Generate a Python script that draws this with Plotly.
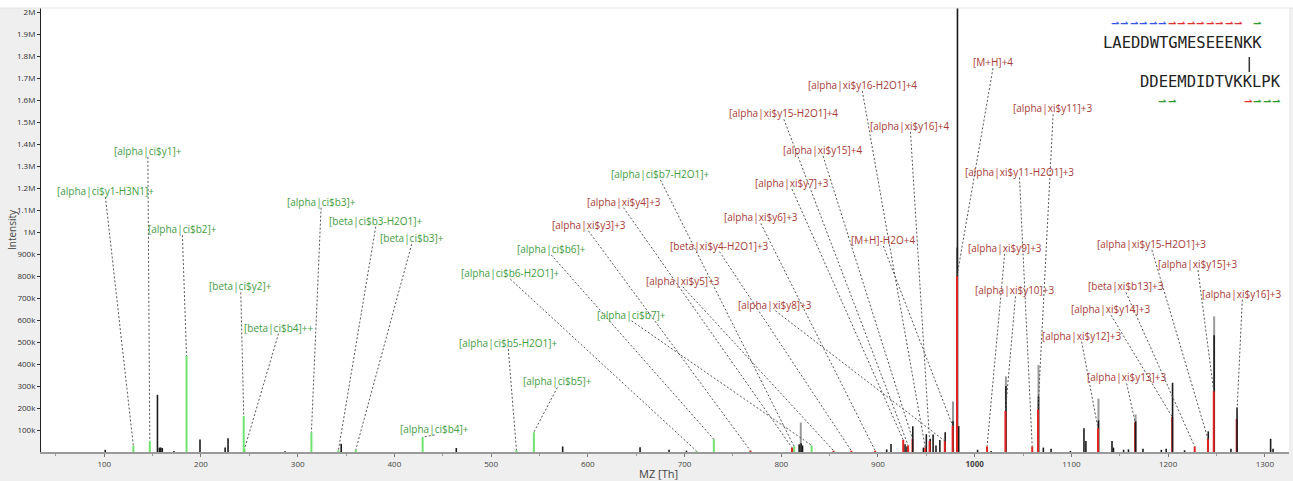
import plotly.graph_objects as go

# ---------------- data ----------------
# unannotated peaks (m/z, intensity)
gray_mz = [820.2, 977.6, 1032.3, 1066.0, 1128.0, 1166.4, 1247.6]
gray_int = [134e3, 230e3, 344e3, 396e3, 243e3, 171e3, 617e3]

black_mz = [101, 155, 157, 158.5, 160, 172, 199, 225, 228, 287, 345, 464, 574, 654, 684, 702,
            818.5, 820.5, 822, 909, 913.5, 928, 930, 947, 950, 954, 957, 960, 964, 969.5,
            977.6, 982.0, 982.2, 983.5, 1003, 1017, 1032.3, 1066.0, 1071, 1079, 1099, 1113, 1115,
            1128.0, 1142, 1143.5, 1154, 1159, 1174, 1193, 1198, 1217, 1241.5, 1247.6,
            1265, 1306, 1308.5]
black_int = [10e3, 260e3, 20e3, 20e3, 18e3, 4e3, 57e3, 20e3, 62e3, 3e3, 38e3, 18e3, 25e3, 22e3, 10e3, 6e3,
             35e3, 40e3, 30e3, 12e3, 36e3, 35e3, 25e3, 20e3, 81e3, 60e3, 80e3, 30e3, 55e3, 90e3,
             140e3, 930e3, 2.4e6, 118e3, 10e3, 4e3, 300e3, 253e3, 20e3, 15e3, 5e3, 108e3, 50e3,
             144e3, 50e3, 20e3, 10e3, 12e3, 15e3, 10e3, 15e3, 8e3, 94e3, 531e3,
             15e3, 60e3, 15e3]

front_mz = [936.0, 1166.4, 1204.6, 1271.3]
front_int = [117e3, 140e3, 315e3, 203e3]

# annotated fragments, light (green)
green_labels = ["[alpha|ci$y1-H3N1]+", "[alpha|ci$y1]+", "[alpha|ci$b2]+", "[beta|ci$y2]+",
                "[beta|ci$b4]++", "[alpha|ci$b3]+", "[beta|ci$b3-H2O1]+", "[beta|ci$b3]+",
                "[alpha|ci$b4]+", "[alpha|ci$b5-H2O1]+", "[alpha|ci$b5]+", "[alpha|ci$b6-H2O1]+",
                "[alpha|ci$b6]+", "[alpha|ci$b7-H2O1]+", "[alpha|ci$b7]+"]
green_mz = [130.1, 147.1, 185.1, 244.2, 245.1, 314.2, 342.1, 360.1, 429.2, 526.2, 544.2, 712.3,
            730.3, 813.3, 831.4]
green_int = [28e3, 50e3, 437e3, 164e3, 15e3, 90e3, 8e3, 10e3, 68e3, 8e3, 90e3, 5e3, 58e3, 25e3, 30e3]
green_label_mz = [101.2, 145.1, 180.8, 241.2, 280.2, 324.2, 380.7, 417.9, 441.6, 517.8, 568.5, 519.8,
                  562.2, 675.1, 645.2]
green_label_int = [1188e3, 1370e3, 1014e3, 753e3, 566e3, 1139e3, 1052e3, 973e3, 105e3, 496e3, 321e3,
                   814e3, 924e3, 1265e3, 624e3]

# annotated fragments, cross-linked (red)
red_labels = ["[alpha|xi$y3]+3", "[alpha|xi$y4]+3", "[alpha|xi$y5]+3", "[beta|xi$y4-H2O1]+3",
              "[alpha|xi$y6]+3", "[alpha|xi$y7]+3", "[alpha|xi$y15-H2O1]+4", "[alpha|xi$y15]+4",
              "[alpha|xi$y16-H2O1]+4", "[alpha|xi$y16]+4", "[alpha|xi$y8]+3", "[M+H]-H2O+4",
              "[M+H]+4", "[alpha|xi$y9]+3", "[alpha|xi$y10]+3", "[alpha|xi$y11-H2O1]+3",
              "[alpha|xi$y11]+3", "[alpha|xi$y12]+3", "[alpha|xi$y13]+3", "[alpha|xi$y14]+3",
              "[beta|xi$b13]+3", "[alpha|xi$y15-H2O1]+3", "[alpha|xi$y15]+3", "[alpha|xi$y16]+3"]
red_mz = [768.1, 811.1, 854.1, 872.4, 897.1, 926.1, 931.2, 935.7, 948.9, 953.4, 969.1, 977.2,
          981.7, 1012.8, 1031.8, 1059.5, 1065.5, 1127.5, 1165.9, 1204.2, 1227.5, 1241.2, 1247.2, 1270.9]
red_int = [6e3, 20e3, 6e3, 6e3, 6e3, 55e3, 30e3, 60e3, 20e3, 50e3, 50e3, 120e3,
           800e3, 25e3, 186e3, 25e3, 194e3, 108e3, 135e3, 160e3, 25e3, 60e3, 276e3, 150e3]
red_label_mz = [600.7, 636.9, 698.2, 736.1, 778.9, 811.2, 802.7, 843.2, 883.8, 933.6, 793.9, 905.5,
                1018.9, 1031.0, 1042.2, 1046.3, 1081.1, 1110.6, 1157.1, 1141.0, 1156.5, 1183.2,
                1230.9, 1276.7]
red_label_int = [1033e3, 1139e3, 779e3, 939e3, 1067e3, 1223e3, 1541e3, 1374e3, 1670e3, 1484e3,
                 670e3, 965e3, 1773e3, 929e3, 735e3, 1276e3, 1564e3, 529e3, 339e3, 650e3, 753e3,
                 947e3, 855e3, 720e3]

x_tickvals = [100, 200, 300, 400, 500, 600, 700, 800, 900, 1000, 1100, 1200, 1300]
x_ticktext = ["100", "200", "300", "400", "500", "600", "700", "800", "900", "<b>1000</b>",
              "1100", "1200", "1300"]
y_tickvals = [100e3, 200e3, 300e3, 400e3, 500e3, 600e3, 700e3, 800e3, 900e3, 1e6,
              1.1e6, 1.2e6, 1.3e6, 1.4e6, 1.5e6, 1.6e6, 1.7e6, 1.8e6, 1.9e6, 2e6]
y_ticktext = ["100k", "200k", "300k", "400k", "500k", "600k", "700k", "800k", "900k", "1M",
              "1.1M", "1.2M", "1.3M", "1.4M", "1.5M", "1.6M", "1.7M", "1.8M", "1.9M", "2M"]

seq_alpha = "LAEDDWTGMESEEENKK"
seq_beta = "DDEEMDIDTVKKLPK"
alpha_marks = {"#3355ee": [1, 2, 3, 4, 5, 6], "#e03030": [7, 8, 9, 10, 11, 12, 13, 14], "#2e9a2e": [16]}
beta_marks = {"#2e9a2e": [2, 3, 12, 13, 14], "#e03030": [11]}

# ---------------- figure ----------------
W, H = 1293, 481
ML, MR, MT, MB = 41, 4, 8, 29
PW, PH = W - ML - MR, H - MT - MB
Y_MAX = 2.02e6
LABEL_GAP = 6 * Y_MAX / PH  # line starts ~6px below label centre


def sticks(mz, h):
    xs, ys = [], []
    for m, v in zip(mz, h):
        xs += [m, m, None]
        ys += [0, v, None]
    return xs, ys


def px2paper(px, py):
    return (px - ML) / PW, (H - MB - py) / PH


def paper_text(px, py, text, font, **kw):
    x, y = px2paper(px, py)
    return dict(x=x, y=y, xref="paper", yref="paper", text=text, showarrow=False,
                xanchor="center", yanchor="middle", font=font, **kw)


fig = go.Figure()
for mz, h, col, w in [(gray_mz, gray_int, "#9a9a9a", 2),
                      (black_mz, black_int, "#1a1a1a", 1.6),
                      (green_mz, green_int, "#6fe36f", 2),
                      (red_mz, red_int, "#e2231f", 2),
                      (front_mz, front_int, "#1a1a1a", 1.6)]:
    xs, ys = sticks(mz, h)
    fig.add_trace(go.Scatter(x=xs, y=ys, mode="lines", line=dict(color=col, width=w),
                             hoverinfo="skip", showlegend=False))

# connector lines
lx, ly = [], []
for lm, li, pm, pi in list(zip(green_label_mz, green_label_int, green_mz, green_int)) + \
        list(zip(red_label_mz, red_label_int, red_mz, red_int)):
    lx += [lm, pm, None]
    ly += [li - LABEL_GAP, pi, None]
fig.add_trace(go.Scatter(x=lx, y=ly, mode="lines",
                         line=dict(color="#555555", width=1, dash="2px,2px"),
                         hoverinfo="skip", showlegend=False))

annotations = []
for t, xm, yi in zip(green_labels, green_label_mz, green_label_int):
    annotations.append(dict(x=xm, y=yi, xref="x", yref="y", text=t, showarrow=False,
                            xanchor="center", yanchor="middle",
                            font=dict(family="Open Sans", size=10, color="#3f9c3f")))
for t, xm, yi in zip(red_labels, red_label_mz, red_label_int):
    annotations.append(dict(x=xm, y=yi, xref="x", yref="y", text=t, showarrow=False,
                            xanchor="center", yanchor="middle",
                            font=dict(family="Open Sans", size=10, color="#a83a35")))

# axis titles
annotations.append(paper_text(658, 473, "MZ [Th]", dict(family="Open Sans", size=11, color="#444"),
                              borderpad=0))
annotations.append(paper_text(12, 230, "Intensity", dict(family="Open Sans", size=10, color="#444"),
                              textangle=-90))

# sequences
annotations.append(paper_text(1182, 43, seq_alpha, dict(family="DejaVu Sans Mono", size=15.5, color="#222")))
annotations.append(paper_text(1210.5, 82, seq_beta, dict(family="DejaVu Sans Mono", size=15.5, color="#222")))
CH = 9.5
for col, idxs in alpha_marks.items():
    for i in idxs:
        annotations.append(paper_text(1101 + CH * i + 4, 24, "<b>⇀</b>",
                                      dict(family="DejaVu Sans", size=10, color=col)))
for col, idxs in beta_marks.items():
    for i in idxs:
        annotations.append(paper_text(1139.3 + CH * i + 4, 102, "<b>⇀</b>",
                                      dict(family="DejaVu Sans", size=10, color=col)))

shapes = []
x0, y0 = px2paper(1249.3, 57)
x1, y1 = px2paper(1249.3, 72)
shapes.append(dict(type="line", xref="paper", yref="paper", x0=x0, x1=x1, y0=y0, y1=y1,
                   line=dict(color="#333", width=1.5)))
# white band on top
shapes.append(dict(type="rect", xref="paper", yref="paper", x0=-ML / PW, x1=1 + MR / PW,
                   y0=1, y1=1 + MT / PH, fillcolor="white", line=dict(width=0), layer="below"))
shapes.append(dict(type="line", xref="paper", yref="paper", x0=-ML / PW, x1=1 + MR / PW,
                   y0=1, y1=1, line=dict(color="#e4e4e4", width=1)))

fig.update_layout(
    width=W, height=H,
    margin=dict(l=ML, r=MR, t=MT, b=MB, pad=0, autoexpand=False),
    paper_bgcolor="#efefef", plot_bgcolor="white",
    showlegend=False, hovermode=False,
    annotations=annotations, shapes=shapes,
    xaxis=dict(range=[34.6, 1325], tickvals=x_tickvals, ticktext=x_ticktext, automargin=False,
               ticks="outside", ticklen=3, tickcolor="#777",
               tickfont=dict(family="Open Sans", size=8, color="#444"),
               showline=True, linecolor="#9a9a9a", linewidth=2, showgrid=False, zeroline=False,
               minor=dict(ticks="outside", ticklen=2, dtick=50, tick0=0, tickcolor="#999")),
    yaxis=dict(range=[0, Y_MAX], tickvals=y_tickvals, ticktext=y_ticktext, automargin=False,
               ticks="outside", ticklen=3, tickcolor="#333",
               tickfont=dict(family="Open Sans", size=8, color="#333"),
               showline=True, linecolor="#222", linewidth=1, showgrid=False, zeroline=False),
)

fig.write_html("out.html", config={"displayModeBar": False, "staticPlot": True},
               post_script="document.body.style.margin='0';document.body.style.padding='0';"
                           "document.documentElement.style.overflow='hidden';")
